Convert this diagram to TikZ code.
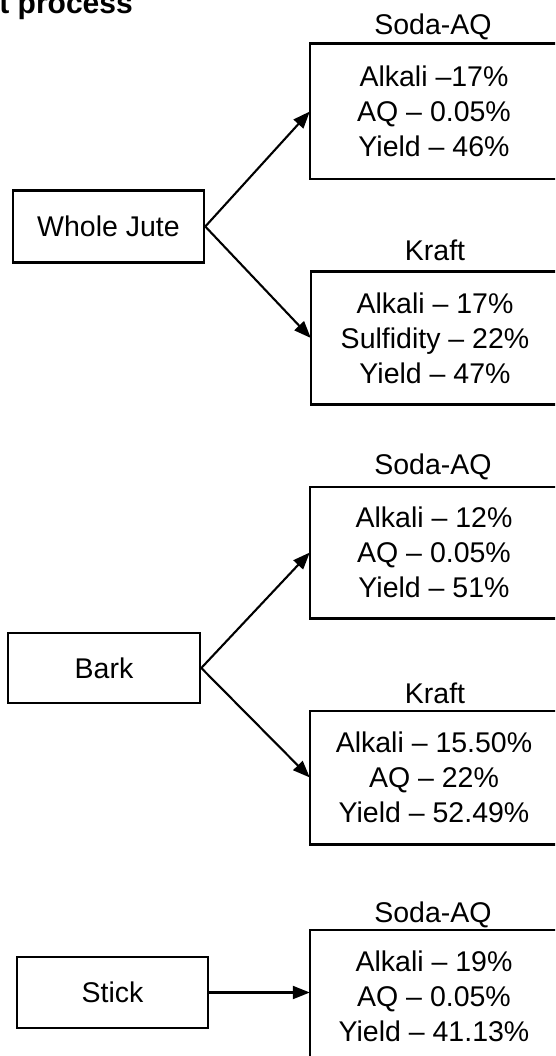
\documentclass[tikz,border=0pt]{standalone}
\usepackage{fontspec}
\setmainfont{Liberation Sans}
\usetikzlibrary{arrows.meta}
\begin{document}
\begin{tikzpicture}[x=1pt,y=-1pt,
  txt/.style={font=\fontsize{28.5}{35}\selectfont, inner sep=0pt},
  resbox/.style={minimum width=248pt, align=center,
     font=\fontsize{28.5}{35}\selectfont, inner sep=0pt},
  boxline/.style={draw, line width=2.6pt},
  srcbox/.style={draw, line width=2.6pt, minimum width=191pt, minimum height=72pt,
     font=\fontsize{28.5}{35}\selectfont, inner sep=0pt},
  arr/.style={line width=2.1pt, -{Triangle[length=17pt,width=13pt]}}]
\clip (0,0) rectangle (555,1056);
\useasboundingbox (0,0) rectangle (555,1056);
% title
\node[anchor=base east, inner sep=0pt, font=\bfseries\fontsize{30}{36}\selectfont] (title) at (133,14) {t process};
% Whole Jute group
\node[srcbox] (wj) at (108.5,226.5) {Whole Jute};
\node[resbox, minimum height=135pt] (b1) at (434,111.5) {Alkali --17\%\\AQ -- 0.05\%\\Yield -- 46\%};
\node[txt] (l1) at (433,27) {Soda-AQ};
\node[resbox, minimum height=132pt] (b2) at (435,338) {Alkali -- 17\%\\Sulfidity -- 22\%\\Yield -- 47\%};
\node[txt] (l2) at (435,250) {Kraft};
% Bark group
\node[srcbox, minimum width=192pt, minimum height=70pt] (bk) at (104,668) {Bark};
\node[resbox, minimum height=131pt] (b3) at (434,552.5) {Alkali -- 12\%\\AQ -- 0.05\%\\Yield -- 51\%};
\node[txt] (l3) at (433,467) {Soda-AQ};
\node[resbox, minimum height=133pt] (b4) at (434,777.5) {Alkali -- 15.50\%\\AQ -- 22\%\\Yield -- 52.49\%};
\node[txt] (l4) at (435,693) {Kraft};
% Stick group
\node[srcbox, minimum height=71pt] (st) at (112.5,992.5) {Stick};
\node[resbox, minimum height=132pt] (b5) at (434,996) {Alkali -- 19\%\\AQ -- 0.05\%\\Yield -- 41.13\%};
\node[txt] (l5) at (433,915) {Soda-AQ};
% box outlines (extend past the right edge, as in the reference)
\foreach \b in {b1,b2,b3,b4,b5}
  \draw[boxline] (\b.north west) rectangle ([xshift=20pt]\b.south east);
% connectors
\draw[arr] (wj.east) -- (b1.west);
\draw[arr] (wj.east) -- (b2.west);
\draw[arr] (bk.east) -- (b3.west);
\draw[arr] (bk.east) -- (b4.west);
\draw[arr] (st.east) -- (st.east -| b5.west);
\end{tikzpicture}
\end{document}
